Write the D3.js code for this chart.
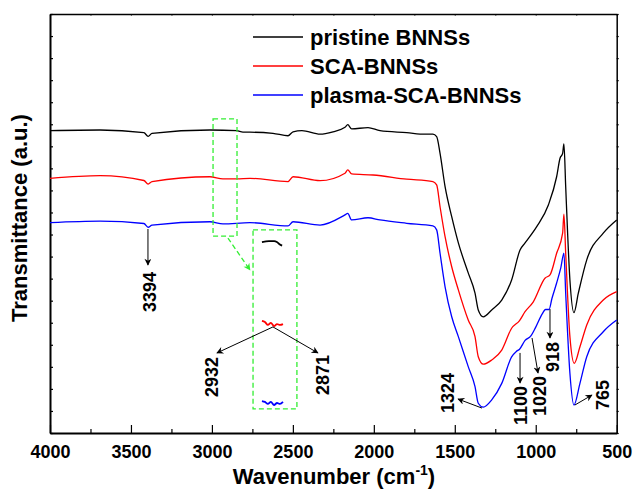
<!DOCTYPE html>
<html>
<head>
<meta charset="utf-8">
<script src="https://cdn.jsdelivr.net/npm/d3@7"></script>
<style>
  body { margin: 0; background: #fff; }
  text { font-family: Arial, "Liberation Sans", sans-serif; font-weight: bold; }
</style>
</head>
<body>
<svg id="chart" width="633" height="490"></svg>
<script>
// FTIR spectra, [wavenumber, transmittance a.u.]
const pristine = [[4000,13.71],[3691,13.74],[3420,13.62],[3394,13.45],[3370,13.59],[3012,13.74],[2847,13.71],[2808,13.64],
  [2765,13.64],[2623,13.59],[2530,13.48],[2499,13.66],[2444,13.71],[2332,13.55],[2252,13.66],[2178,13.86],[2161,13.98],
  [2137,13.79],[2036,13.85],[1962,13.71],[1797,13.62],[1684,13.55],[1635,13.55],[1612,13.44],[1591,12.68],[1560,11.17],
  [1519,9.81],[1478,8.62],[1417,7.26],[1375,6.34],[1355,5.58],[1324,5.27],[1272,5.58],[1210,6.03],[1149,6.94],[1097,8.30],
  [1066,8.62],[994,9.36],[922,10.34],[871,11.62],[850,12.46],[834,12.68],[826,13.11],[815,11.17],[789,6.94],[764,5.46],
  [737,6.34],[685,7.85],[583,9.06],[500,9.66]];
const sca = [[4000,11.55],[3691,11.67],[3420,11.45],[3394,11.29],[3370,11.40],[3012,11.62],[2932,11.52],[2847,11.52],
  [2765,11.55],[2530,11.40],[2499,11.62],[2332,11.44],[2178,11.78],[2161,11.93],[2137,11.75],[2005,11.70],[1797,11.51],
  [1635,11.40],[1612,11.25],[1591,10.26],[1560,8.90],[1519,7.54],[1478,6.49],[1417,5.12],[1375,4.37],[1355,3.46],
  [1324,3.12],[1272,3.31],[1210,3.76],[1149,4.75],[1100,5.10],[1066,5.50],[1015,5.95],[943,7.02],[912,7.17],[871,8.15],
  [834,9.06],[826,9.92],[815,8.15],[789,4.37],[762,3.16],[727,3.91],[685,4.90],[583,6.03],[500,6.41]];
const plasma = [[4000,9.54],[3691,9.61],[3420,9.50],[3394,9.33],[3370,9.43],[3012,9.58],[2932,9.48],[2765,9.54],
  [2530,9.39],[2499,9.58],[2332,9.43],[2178,9.89],[2161,9.96],[2137,9.66],[2036,9.76],[1962,9.66],[1797,9.51],
  [1635,9.39],[1612,9.21],[1591,8.15],[1560,6.63],[1519,5.27],[1478,4.37],[1417,3.01],[1375,2.10],[1355,1.35],
  [1324,1.17],[1272,1.50],[1210,2.25],[1149,3.45],[1120,3.70],[1100,3.80],[1066,4.20],[1030,4.40],[1000,4.80],
  [960,5.40],[940,5.60],[918,5.60],[900,6.10],[871,6.80],[845,7.50],[826,8.15],[815,6.34],[789,2.71],[764,1.27],
  [727,2.25],[685,3.46],[583,4.59],[500,5.12]];

// magnified 2932/2871 region shown in the inset box
const insetPristine = [[2960,8.66],[2920,8.70],[2890,8.70],[2875,8.66],[2860,8.56],[2845,8.50]];
const insetSca = [[2960,5.08],[2943,5.03],[2926,4.90],[2909,4.99],[2891,4.85],[2874,4.94],[2857,4.90],[2840,4.94]];
const insetPlasma = [[2960,1.45],[2943,1.41],[2926,1.32],[2909,1.41],[2891,1.27],[2874,1.36],[2857,1.32],[2840,1.41]];

const seriesNames = ['pristine BNNSs', 'SCA-BNNSs', 'plasma-SCA-BNNSs'];
const seriesColors = ['#000000', '#ff0000', '#0000ff'];
const xTicks = [4000, 3500, 3000, 2500, 2000, 1500, 1000, 500];
const xMinorTicks = [3750, 3250, 2750, 2250, 1750, 1250, 750];

// peak labels: arrow from (wn,v) to (wn,v), label anchored at (wn,v)
const peaks = [
  { label: '3394', from: [3395, 9.25], to: [3395, 7.62], at: [3382, 7.30] },
  { label: '2932', from: [2623, 4.81], to: [2969, 3.63], at: [3000, 3.45] },
  { label: '2871', from: [2623, 4.81], to: [2345, 3.63], at: [2314, 3.54] },
  { label: '1324', from: [1332, 1.13], to: [1480, 1.54], at: [1542, 2.72] },
  { label: '1100', from: [1097, 3.63], to: [1097, 2.27], at: [1091, 2.13] },
  { label: '1020', from: [1023, 4.31], to: [986, 2.72], at: [974, 2.59] },
  { label: '918', from: [912, 5.62], to: [912, 4.31], at: [893, 4.13] },
  { label: '765', from: [758, 1.27], to: [653, 1.72], at: [585, 2.40] }
];

const svg = d3.select('#chart');
const mLeft = 50, mRight = 616.7, mTop = 14, mBottom = 433;

const x = d3.scaleLinear().domain([4000, 500]).range([mLeft, mRight]);
const y = d3.scaleLinear().domain([0, 19]).range([mBottom, mTop]);

// axes
const gx = svg.append('g').attr('transform', `translate(0,${mBottom})`)
  .call(d3.axisBottom(x).tickValues(xTicks).tickFormat(d3.format('d'))
    .tickSize(-8).tickSizeOuter(0).tickPadding(12));
gx.selectAll('text').attr('font-size', 18).attr('fill', '#000');
gx.append('g').call(d3.axisBottom(x).tickValues(xMinorTicks).tickSize(-4).tickFormat(''))
  .select('.domain').remove();
gx.select('.domain').attr('stroke-width', 2);

const gt = svg.append('g').attr('transform', `translate(0,${mTop})`)
  .call(d3.axisTop(x).tickValues(xTicks.concat(xMinorTicks)).tickSize(-1.5).tickSizeOuter(0).tickFormat(''));
gt.select('.domain').attr('stroke-width', 1.5);

const yTickVals = d3.range(0, 20);
const gl = svg.append('g').attr('transform', `translate(${mLeft},0)`)
  .call(d3.axisLeft(y).tickValues(yTickVals).tickSize(-3).tickSizeOuter(0).tickFormat(''));
gl.select('.domain').attr('stroke-width', 2);

const gr = svg.append('g').attr('transform', `translate(${mRight},0)`)
  .call(d3.axisRight(y).tickValues(yTickVals).tickSize(2).tickSizeOuter(0).tickFormat(''));
gr.select('.domain').attr('stroke-width', 1.5);

svg.selectAll('.tick line').attr('stroke', '#000').attr('stroke-width', 1.2);
svg.selectAll('.domain').attr('stroke', '#000');

// titles
svg.append('text').attr('x', 334).attr('y', 484).attr('text-anchor', 'middle').attr('font-size', 22)
  .html('Wavenumber (cm<tspan font-size="14" dy="-9">-1</tspan><tspan dy="9">)</tspan>');
svg.append('text').attr('transform', 'translate(27,218) rotate(-90)').attr('text-anchor', 'middle')
  .attr('font-size', 22).text('Transmittance (a.u.)');

// arrow markers
const defs = svg.append('defs');
function marker (id, color) {
  defs.append('marker').attr('id', id).attr('viewBox', '0 0 10 10').attr('refX', 9).attr('refY', 5)
    .attr('markerWidth', 9).attr('markerHeight', 7).attr('markerUnits', 'userSpaceOnUse')
    .attr('orient', 'auto')
    .append('path').attr('d', 'M0,0 L10,5 L0,10 L3,5 Z').attr('fill', color);
}
marker('arr', '#000');
marker('garr', '#33ee33');

// spectra
const line = d3.line().x(d => x(d[0])).y(d => y(d[1])).curve(d3.curveMonotoneX);
[pristine, sca, plasma].forEach((data, i) => {
  svg.append('path').datum(data).attr('d', line).attr('fill', 'none')
    .attr('stroke', seriesColors[i]).attr('stroke-width', 1.3);
});

// green dashed boxes and arrow
const boxes = [[2993, 2845, 14.24, 8.93], [2746, 2475, 9.21, 1.09]];
boxes.forEach(b => {
  svg.append('rect').attr('x', x(b[0])).attr('y', y(b[2]))
    .attr('width', x(b[1]) - x(b[0])).attr('height', y(b[3]) - y(b[2]))
    .attr('fill', 'none').attr('stroke', '#33ee33').attr('stroke-width', 1.3).attr('stroke-dasharray', '5,3');
});
svg.append('line').attr('x1', x(2901)).attr('y1', y(8.84)).attr('x2', x(2765)).attr('y2', y(7.39))
  .attr('stroke', '#33ee33').attr('stroke-width', 1.3).attr('stroke-dasharray', '5,3')
  .attr('marker-end', 'url(#garr)');

// inset: magnified C-H region
const ix = d3.scaleLinear().domain([2960, 2840]).range([x(2691), x(2561)]);
const insetLine = d3.line().x(d => ix(d[0])).y(d => y(d[1])).curve(d3.curveMonotoneX);
[insetPristine, insetSca, insetPlasma].forEach((data, i) => {
  svg.append('path').datum(data).attr('d', insetLine).attr('fill', 'none')
    .attr('stroke', seriesColors[i]).attr('stroke-width', 1.8);
});

// peak annotations
peaks.forEach(p => {
  svg.append('line').attr('x1', x(p.from[0])).attr('y1', y(p.from[1]))
    .attr('x2', x(p.to[0])).attr('y2', y(p.to[1]))
    .attr('stroke', '#000').attr('stroke-width', 1).attr('marker-end', 'url(#arr)');
  svg.append('text').attr('transform', `translate(${x(p.at[0])},${y(p.at[1])}) rotate(-90)`)
    .attr('text-anchor', 'end').attr('dy', '0.35em').attr('font-size', 18).text(p.label);
});

// legend
const legend = svg.append('g').attr('transform', 'translate(253,37)');
seriesNames.forEach((name, i) => {
  const row = legend.append('g').attr('transform', `translate(0,${i * 29})`);
  row.append('line').attr('x1', 0).attr('x2', 50).attr('stroke', seriesColors[i]).attr('stroke-width', 1.3);
  row.append('text').attr('x', 57).attr('y', 8).attr('font-size', 22).text(name);
});
</script>
</body>
</html>
